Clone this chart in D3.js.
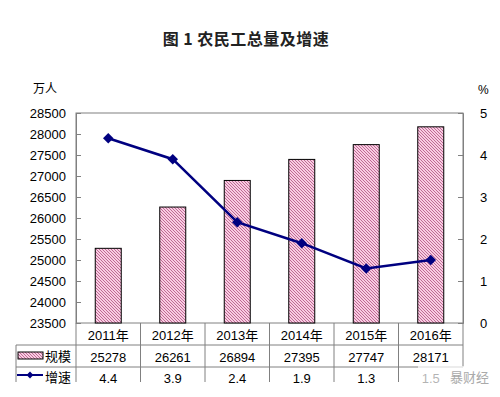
<!DOCTYPE html>
<html>
<head>
<meta charset="utf-8">
<script src="https://cdn.jsdelivr.net/npm/d3@7"></script>
<style>
  body { margin: 0; background: #fff; }
  text { font-family: "Liberation Sans", Arial, "Noto Sans CJK SC", sans-serif; fill: #000; }
  .cjk { font-family: "Noto Sans CJK SC", sans-serif; }
</style>
</head>
<body>
<div id="chart"></div>
<script>
    // values
    var years = ["2011年", "2012年", "2013年", "2014年", "2015年", "2016年"],
        scale = [25278, 26261, 26894, 27395, 27747, 28171],
        growth = [4.4, 3.9, 2.4, 1.9, 1.3, 1.5],
        leftTicks = [23500, 24000, 24500, 25000, 25500, 26000, 26500, 27000, 27500, 28000, 28500],
        rightTicks = [0, 1, 2, 3, 4, 5];

    // plot box (note: "top" is taken by window.top, so prefixed names)
    var w = 500, h = 397,
        pLeft = 76, pRight = 463, pTop = 113, pBottom = 323,
        tableLeft = 16,
        row1 = 345, row2 = 367, row3 = 382;

    var svg = d3.select("#chart").append("svg")
        .attr("width", w)
        .attr("height", h);

    // fine pink hatch for the bars
    var pat = svg.append("defs").append("pattern")
        .attr("id", "hatch")
        .attr("patternUnits", "userSpaceOnUse")
        .attr("width", 3).attr("height", 3);
    pat.append("rect").attr("width", 3).attr("height", 3).attr("fill", "#f8cce2");
    pat.append("path")
        .attr("d", "M-1,-1 L4,4 M-1,2 L1,4 M2,-1 L4,1")
        .attr("stroke", "#b05080")
        .attr("stroke-width", 0.8);

    var x = d3.scaleBand().domain(years).range([pLeft, pRight]);
    var yL = d3.scaleLinear().domain([23500, 28500]).range([pBottom, pTop]);
    var yR = d3.scaleLinear().domain([0, 5]).range([pBottom, pTop]);

    // title
    svg.append("text")
        .attr("class", "cjk")
        .attr("x", 246).attr("y", 45)
        .attr("text-anchor", "middle")
        .style("font-size", "16px")
        .style("font-weight", "bold")
        .style("letter-spacing", "0.5px")
        .style("fill", "#222")
        .text("图 1 农民工总量及增速");

    svg.append("text").attr("class", "cjk")
        .attr("x", 33).attr("y", 93)
        .style("font-size", "12px")
        .text("万人");
    svg.append("text")
        .attr("x", 478).attr("y", 94)
        .style("font-size", "12px")
        .text("%");

    // plot frame
    svg.append("rect")
        .attr("x", pLeft).attr("y", pTop)
        .attr("width", pRight - pLeft).attr("height", pBottom - pTop)
        .attr("fill", "none")
        .attr("stroke", "#808080");

    // left axis
    var gL = svg.append("g").attr("transform", "translate(" + pLeft + ",0)")
        .call(d3.axisLeft(yL).tickValues(leftTicks).tickSize(-5).tickPadding(10).tickFormat(d3.format("d")));
    gL.select(".domain").attr("stroke", "#808080");
    gL.selectAll(".tick line").attr("stroke", "#808080");
    gL.selectAll("text").style("font-size", "13px").style("font-family", "Liberation Sans, Arial");

    // right axis
    var gR = svg.append("g").attr("transform", "translate(" + pRight + ",0)")
        .call(d3.axisRight(yR).tickValues(rightTicks).tickSize(-5).tickPadding(17).tickFormat(d3.format("d")));
    gR.select(".domain").attr("stroke", "#808080");
    gR.selectAll(".tick line").attr("stroke", "#808080");
    gR.selectAll("text").style("font-size", "13px").style("font-family", "Liberation Sans, Arial");

    // bars
    var bw = 26;
    svg.selectAll("rect.bar")
        .data(scale)
        .enter().append("rect")
        .attr("class", "bar")
        .attr("x", function(d, i) { return x(years[i]) + x.bandwidth() / 2 - bw / 2; })
        .attr("y", function(d) { return yL(d); })
        .attr("width", bw)
        .attr("height", function(d) { return pBottom - yL(d); })
        .attr("fill", "url(#hatch)")
        .attr("stroke", "#000")
        .attr("stroke-width", 1);

    // growth line
    var line = d3.line()
        .x(function(d, i) { return x(years[i]) + x.bandwidth() / 2; })
        .y(function(d) { return yR(d); });

    svg.append("path")
        .datum(growth)
        .attr("d", line)
        .attr("fill", "none")
        .attr("stroke", "#000080")
        .attr("stroke-width", 2.5);

    var diamond = d3.symbol().type(d3.symbolDiamond2).size(70);
    svg.selectAll("path.pt")
        .data(growth)
        .enter().append("path")
        .attr("class", "pt")
        .attr("d", diamond)
        .attr("transform", function(d, i) {
            return "translate(" + (x(years[i]) + x.bandwidth() / 2) + "," + yR(d) + ")";
        })
        .attr("fill", "#000080");

    // data table
    var grid = svg.append("g").attr("stroke", "#808080").attr("stroke-width", 1);
    grid.append("line").attr("x1", tableLeft).attr("x2", pRight).attr("y1", row1).attr("y2", row1);
    grid.append("line").attr("x1", tableLeft).attr("x2", pRight).attr("y1", row2).attr("y2", row2);
    grid.append("line").attr("x1", pRight).attr("x2", pRight).attr("y1", pBottom).attr("y2", row2);
    grid.append("line").attr("x1", tableLeft).attr("x2", tableLeft).attr("y1", row1).attr("y2", row3);
    years.forEach(function(yr) {
        grid.append("line")
            .attr("x1", x(yr)).attr("x2", x(yr))
            .attr("y1", pBottom).attr("y2", row3);
    });

    var cx = function(d, i) { return x(years[i]) + x.bandwidth() / 2; };

    svg.selectAll("text.yr")
        .data(years)
        .enter().append("text")
        .attr("class", "yr")
        .attr("x", cx).attr("y", 340)
        .attr("text-anchor", "middle")
        .style("font-size", "13px")
        .text(function(d) { return d; });

    svg.selectAll("text.sc")
        .data(scale)
        .enter().append("text")
        .attr("class", "sc")
        .attr("x", cx).attr("y", 362)
        .attr("text-anchor", "middle")
        .style("font-size", "13px")
        .text(function(d) { return d; });

    svg.selectAll("text.gr")
        .data(growth)
        .enter().append("text")
        .attr("class", "gr")
        .attr("x", cx).attr("y", 383)
        .attr("text-anchor", "middle")
        .style("font-size", "13px")
        .text(function(d) { return d3.format(".1f")(d); });

    // legend keys in the row headers
    svg.append("rect")
        .attr("x", 18).attr("y", 352).attr("width", 25).attr("height", 7)
        .attr("fill", "url(#hatch)").attr("stroke", "#000");
    svg.append("text").attr("class", "cjk")
        .attr("x", 45).attr("y", 361)
        .style("font-size", "13px")
        .text("规模");
    svg.append("line")
        .attr("x1", 17).attr("x2", 43).attr("y1", 375).attr("y2", 375)
        .attr("stroke", "#000080").attr("stroke-width", 2);
    svg.append("path")
        .attr("d", d3.symbol().type(d3.symbolDiamond2).size(30))
        .attr("transform", "translate(30,375)")
        .attr("fill", "#000080");
    svg.append("text").attr("class", "cjk")
        .attr("x", 45).attr("y", 382)
        .style("font-size", "13px")
        .text("增速");

    // cut the bottom of the table like the picture
    svg.append("rect")
        .attr("x", 0).attr("y", 384).attr("width", w).attr("height", h - 384)
        .attr("fill", "#fff");

    // watermark over the last cell
    svg.append("rect")
        .attr("x", 418).attr("y", 366).attr("width", 80).attr("height", 20)
        .attr("fill", "#fff").attr("opacity", 0.7);
    svg.append("text").attr("class", "cjk")
        .attr("x", 450).attr("y", 382)
        .style("font-size", "13px")
        .style("fill", "#aaa")
        .text("暴财经");
</script>
</body>
</html>
